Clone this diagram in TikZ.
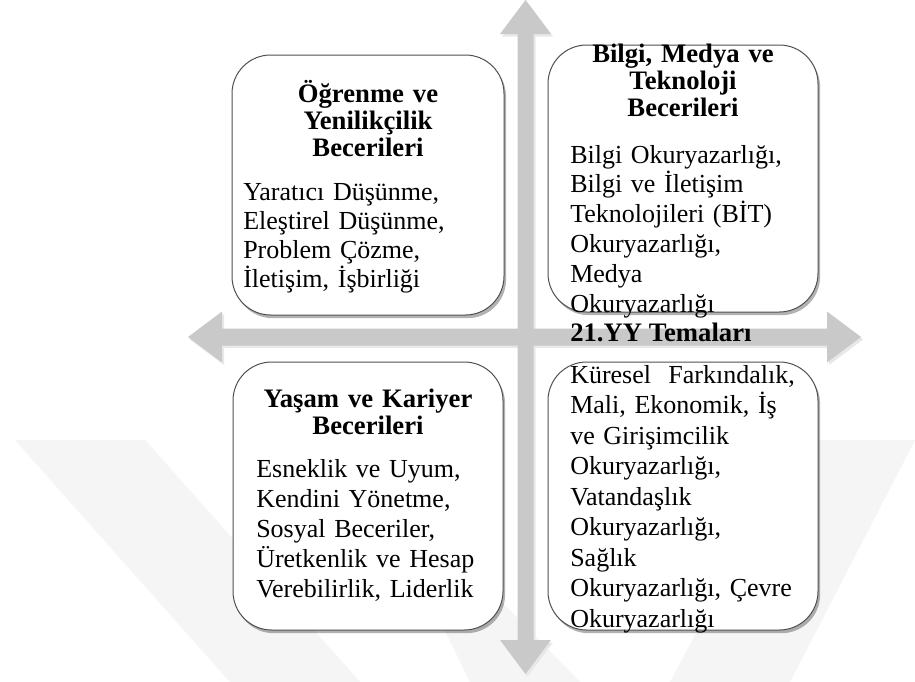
\documentclass[tikz,border=0pt]{standalone}
\usepackage{fontspec}
\setmainfont{Liberation Serif}
\usetikzlibrary{shadows}
\definecolor{arrowgray}{RGB}{201,201,201}
\definecolor{wmark}{RGB}{245,245,245}
\definecolor{boxline}{RGB}{80,80,80}
\tikzset{
  qbox/.style={draw=boxline, line width=0.75pt, fill=white, rounded corners=29pt,
    drop shadow={shadow xshift=1.6pt, shadow yshift=-2.4pt, fill=black, opacity=0.3}},
  ttl/.style={font=\bfseries\fontsize{20}{20.6}\selectfont, align=center, text width=260pt, inner sep=0pt, anchor=base},
  bdy/.style={font=\fontsize{19.5}{22.5}\selectfont, align=left, text width=260pt, inner sep=0pt, anchor=base west},
}
\begin{document}
\begin{tikzpicture}[x=0.75pt,y=-0.75pt]
\useasboundingbox (0,0) rectangle (915,682);
\fill[white] (0,0) rectangle (915,682);
% watermark
\fill[wmark] (15,440) -- (145,440) -- (360,682) -- (230,682) -- cycle;
\fill[wmark] (800,440) -- (915,440) -- (790,682) -- (670,682) -- cycle;
\fill[wmark] (430,600) -- (500,600) -- (580,682) -- (470,682) -- cycle;
% arrows shadow
\fill[black!9] ([shift={(2,2.5)}]188,337) -- ([shift={(2,2.5)}]222,311.5) -- ([shift={(2,2.5)}]222,328.5) -- ([shift={(2,2.5)}]827,328.5) -- ([shift={(2,2.5)}]827,311.5) -- ([shift={(2,2.5)}]861,337) -- ([shift={(2,2.5)}]827,362.5) -- ([shift={(2,2.5)}]827,345.5) -- ([shift={(2,2.5)}]222,345.5) -- ([shift={(2,2.5)}]222,362.5) -- cycle;
\fill[black!9] ([shift={(2,2.5)}]525.5,0) -- ([shift={(2,2.5)}]551,34) -- ([shift={(2,2.5)}]533.5,34) -- ([shift={(2,2.5)}]533.5,640) -- ([shift={(2,2.5)}]551,640) -- ([shift={(2,2.5)}]525.5,674) -- ([shift={(2,2.5)}]500,640) -- ([shift={(2,2.5)}]517.5,640) -- ([shift={(2,2.5)}]517.5,34) -- ([shift={(2,2.5)}]500,34) -- cycle;
% arrows
\fill[arrowgray] (188,337) -- (222,311.5) -- (222,328.5) -- (827,328.5) -- (827,311.5) -- (861,337) -- (827,362.5) -- (827,345.5) -- (222,345.5) -- (222,362.5) -- cycle;
\fill[arrowgray] (525.5,0) -- (551,34) -- (533.5,34) -- (533.5,640) -- (551,640) -- (525.5,674) -- (500,640) -- (517.5,640) -- (517.5,34) -- (500,34) -- cycle;
% boxes
\node[qbox, minimum width=204pt, minimum height=195pt] (tl) at (368,185) {};
\node[qbox, minimum width=202.5pt, minimum height=200.25pt] (tr) at (683,178.5) {};
\node[qbox, minimum width=202.5pt, minimum height=201pt] (bl) at (368,496) {};
\node[qbox, minimum width=202.5pt, minimum height=201pt] (br) at (683,496) {};
% texts
\node[ttl] (tlt) at (368,102) {Öğrenme ve\\Yenilikçilik\\Becerileri};
\node[bdy, font=\fontsize{19.5}{21.75}\selectfont] (tlb) at (243,200) {Yaratıcı Düşünme,\\Eleştirel Düşünme,\\Problem Çözme,\\İletişim, İşbirliği};
\node[ttl] (trt) at (683,62) {Bilgi, Medya ve\\Teknoloji\\Becerileri};
\node[bdy, font=\fontsize{19.5}{22.35}\selectfont] (trb) at (570,163) {Bilgi Okuryazarlığı,\\Bilgi ve İletişim\\Teknolojileri (BİT)\\Okuryazarlığı,\\Medya\\Okuryazarlığı};
\node[font=\bfseries\fontsize{20}{20.6}\selectfont, inner sep=0pt, anchor=base west] (theme) at (570,341) {21.YY Temaları};
\node[ttl, font=\bfseries\fontsize{20}{20.25}\selectfont] (blt) at (368,407) {Yaşam ve Kariyer\\Becerileri};
\node[bdy] (blb) at (256,477) {Esneklik ve Uyum,\\Kendini Yönetme,\\Sosyal Beceriler,\\Üretkenlik ve Hesap\\Verebilirlik, Liderlik};
\node[bdy, font=\fontsize{19.5}{22.9}\selectfont] (brb) at (570,383) {Küresel\ \ Farkındalık,\\Mali, Ekonomik, İş\\ve Girişimcilik\\Okuryazarlığı,\\Vatandaşlık\\Okuryazarlığı,\\Sağlık\\Okuryazarlığı, Çevre\\Okuryazarlığı};
\end{tikzpicture}
\end{document}
